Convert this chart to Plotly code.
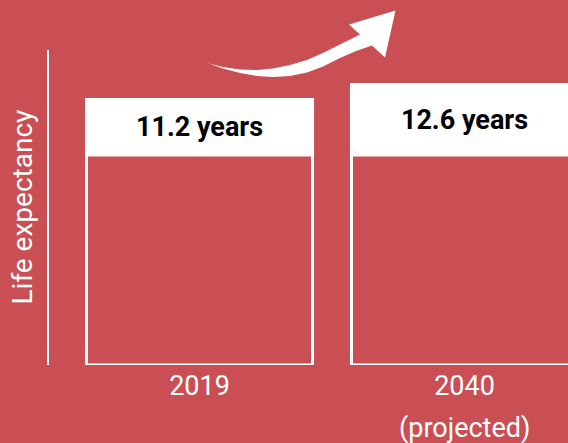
import plotly.graph_objects as go

# ---- data ----
years = ["2019", "2040"]
life_expectancy = [11.2, 12.6]
header_labels = ["11.2 years", "12.6 years"]
note_label = "(projected)"
axis_title = "Life expectancy"

# ---- style constants ----
BG = "#CA4F54"
WHITE = "#FFFFFF"
W, H = 568, 443
L, R, T, B = 49, 0, 50, 78
Y_MIN, Y_MAX = -14.086, 15.914   # stylised (non-zero) baseline of the design
HEADER_FLOOR = 5.914             # where the white header boxes end
BAR_W = 0.853
X_RANGE = [-0.568, 1.3906]

xs = list(range(len(years)))

fig = go.Figure()

# bar bodies (outline only)
fig.add_trace(go.Bar(
    x=xs,
    y=[v - Y_MIN for v in life_expectancy],
    base=Y_MIN,
    width=BAR_W,
    marker=dict(color=BG, line=dict(color=WHITE, width=3)),
    hoverinfo="skip",
    showlegend=False,
))

# white header boxes with labels
fig.add_trace(go.Bar(
    x=xs,
    y=[v - HEADER_FLOOR for v in life_expectancy],
    base=HEADER_FLOOR,
    width=BAR_W,
    marker=dict(color=WHITE, line=dict(color=WHITE, width=3)),
    text=header_labels,
    textposition="inside",
    insidetextanchor="middle",
    textangle=0,
    constraintext="none",
    textfont=dict(family="Roboto", size=27, color="#000000", weight="bold"),
    hoverinfo="skip",
    showlegend=False,
))

# curved arrow (pixel outline -> paper coords)
def px2paper(px, py):
    pw = W - L - R
    ph = H - T - B
    return (px - L) / pw, (H - B - py) / ph

arrow_pts = [
    (203, 61), (213, 65), (223, 68.5), (240, 73), (257, 76), (273, 77),
    (290, 76), (307, 72.5), (323, 66.5), (340, 58), (356, 51), (372, 45.5),
    (385, 57.5), (395.5, 10.5), (349, 24.5), (360, 34.5),
    (340, 44.5), (323, 53), (307, 60), (290, 65), (273, 68.5), (257, 70),
    (240, 69.5), (223, 67), (211, 64),
]
path = ""
for i, (px, py) in enumerate(arrow_pts):
    u, v = px2paper(px, py)
    path += ("M" if i == 0 else "L") + f"{u:.5f},{v:.5f} "
path += "Z"
fig.add_shape(type="path", xref="paper", yref="paper", path=path,
              fillcolor=WHITE, line=dict(width=0), layer="above")

# y-axis title
fig.add_annotation(text=axis_title, xref="paper", yref="paper", x=0, y=0.5,
                   xshift=-27, textangle=-90, showarrow=False,
                   xanchor="center", yanchor="middle",
                   font=dict(family="Roboto", size=28, color=WHITE))

# "(projected)" under 2040
fig.add_annotation(text=note_label, xref="x", yref="paper", x=1, y=-0.2,
                   showarrow=False, xanchor="center", yanchor="middle",
                   font=dict(family="Roboto", size=27, color=WHITE))

fig.update_layout(
    width=W, height=H,
    margin=dict(l=L, r=R, t=T, b=B, pad=0),
    paper_bgcolor=BG, plot_bgcolor=BG,
    barmode="overlay",
    showlegend=False,
    xaxis=dict(range=X_RANGE, tickvals=xs, ticktext=years, showgrid=False,
               zeroline=False, showline=False, ticks="",
               ticklabelstandoff=2,
               tickfont=dict(family="Roboto", size=27, color=WHITE),
               fixedrange=True),
    yaxis=dict(range=[Y_MIN, Y_MAX], showgrid=False, zeroline=False,
               showticklabels=False, ticks="", showline=True,
               linecolor=WHITE, linewidth=2, fixedrange=True),
)

fig.write_html(
    "out.html",
    config={"displayModeBar": False},
    post_script="document.body.style.margin='0';document.body.style.padding='0';",
)
